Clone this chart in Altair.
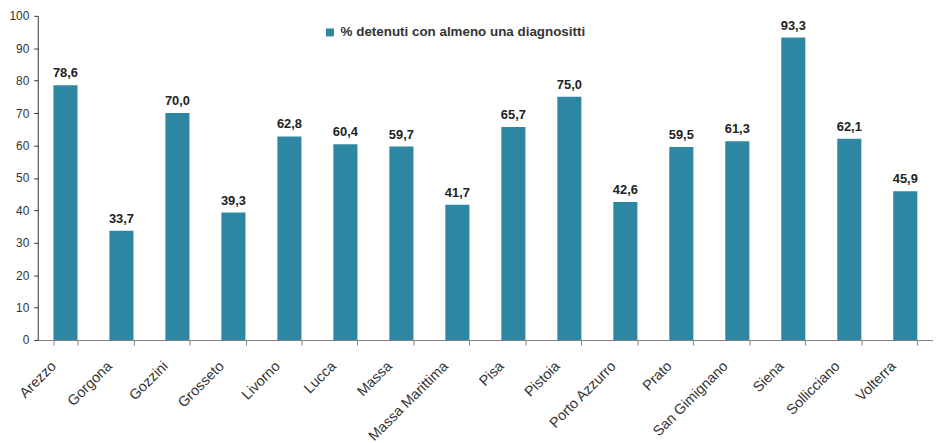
import altair as alt
import pandas as pd

categories = ["Arezzo", "Gorgona", "Gozzini", "Grosseto", "Livorno", "Lucca", "Massa",
              "Massa Marittima", "Pisa", "Pistoia", "Porto Azzurro", "Prato",
              "San Gimignano", "Siena", "Sollicciano", "Volterra"]
values = [78.6, 33.7, 70.0, 39.3, 62.8, 60.4, 59.7, 41.7, 65.7, 75.0, 42.6, 59.5,
          61.3, 93.3, 62.1, 45.9]
series_name = "% detenuti con almeno una diagnositti"
y_ticks = list(range(0, 101, 10))

df = pd.DataFrame({
    "cat": categories,
    "val": values,
    "label": [f"{v:.1f}".replace(".", ",") for v in values],
    "series": [series_name] * len(values),
})

FONT = "Liberation Sans"
COLOR = "#2e87a2"

x = alt.X("cat:N", sort=categories, title=None,
          scale=alt.Scale(paddingInner=0.57, paddingOuter=0.28),
          axis=alt.Axis(labelAngle=-45, labelAlign="right", labelBaseline="middle",
                        labelFontSize=14.5, labelColor="#333333",
                        labelFont=FONT, tickBand="extent", tickColor="#808080",
                        domainColor="#808080", tickSize=5, labelPadding=19,
                        labelOffset=-12, labelOverlap=False, labelLimit=0))

y = alt.Y("val:Q", title=None,
          scale=alt.Scale(domain=[0, 100], nice=False),
          axis=alt.Axis(values=y_ticks, grid=False, labelFontSize=12,
                        labelColor="#333333", labelFont=FONT, tickColor="#333333",
                        domainColor="#333333", tickSize=4, labelPadding=5,
                        labelOverlap=False))

bars = alt.Chart(df).mark_bar(color=COLOR).encode(
    x=x,
    y=y,
    fill=alt.Fill("series:N", scale=alt.Scale(range=[COLOR]),
                  legend=alt.Legend(title=None, orient="none", legendX=288, legendY=10,
                                    symbolType="square", symbolSize=64,
                                    labelFontSize=13.5, labelFontWeight="bold",
                                    labelFont=FONT, labelColor="#333333",
                                    symbolStrokeWidth=0, labelLimit=0, labelOffset=4)),
)

text = alt.Chart(df).mark_text(baseline="alphabetic", dy=-8, fontSize=13, fontWeight="bold",
                               font=FONT, color="#222222").encode(
    x=x,
    y=y,
    text="label:N",
)

chart = (bars + text).properties(width=903, height=327, padding={"left": 0, "top": 0, "right": 0, "bottom": 0}).configure_view(stroke=None)

chart.save("out.html", embed_options={"renderer": "svg", "actions": False})
